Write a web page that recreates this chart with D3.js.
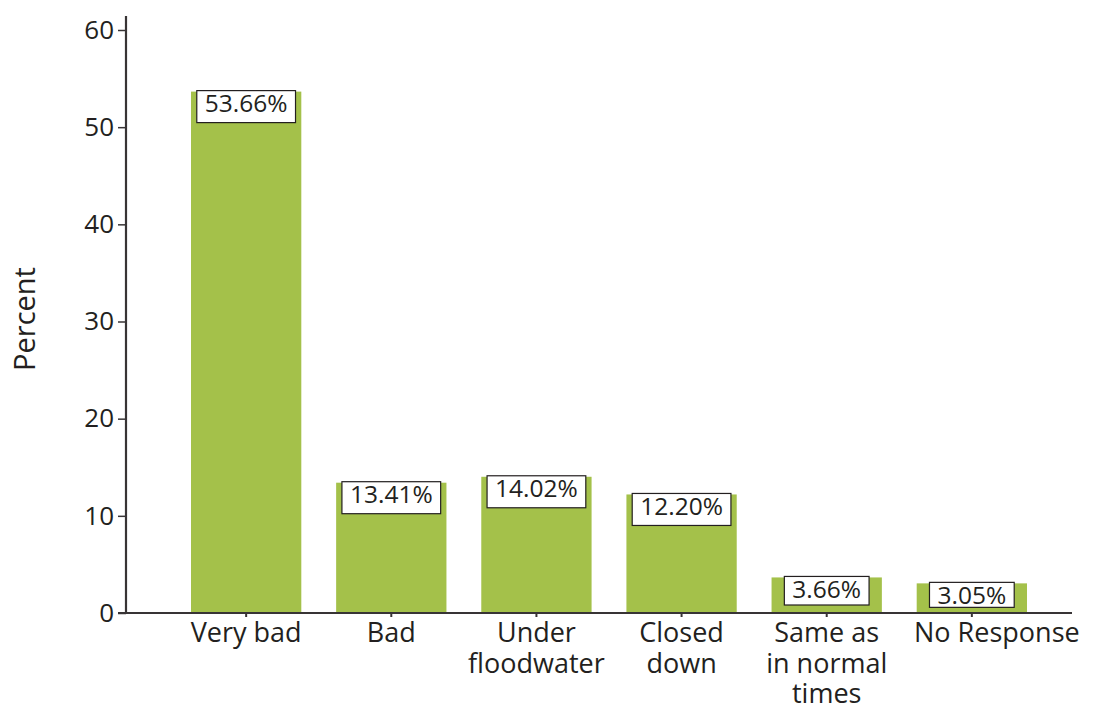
<!DOCTYPE html>
<html>
<head>
<meta charset="utf-8">
<script src="https://cdn.jsdelivr.net/npm/d3@7"></script>
<style>
  html, body { margin: 0; padding: 0; background: #fff; }
  svg text { font-family: "Open Sans", "Noto Sans", sans-serif; fill: #231f20; }
</style>
</head>
<body>
<svg id="chart" width="1101" height="709"></svg>
<script>
// Survey responses: condition of facilities during the flood
const categories = ["Very bad", "Bad", "Under floodwater", "Closed down", "Same as in normal times", "No Response"];
const categoryLines = [["Very bad"], ["Bad"], ["Under", "floodwater"], ["Closed", "down"], ["Same as", "in normal", "times"], ["No Response"]];
const percents = [53.66, 13.41, 14.02, 12.20, 3.66, 3.05];
const yTicks = [0, 10, 20, 30, 40, 50, 60];

const svg = d3.select("#chart");
const ink = "#383435";
const barColor = "#a4c14a";
const fontFamily = "'Open Sans', 'Noto Sans', sans-serif";

const x = d3.scaleBand()
  .domain(categories)
  .range([191, 1027])
  .paddingInner(0.24)
  .paddingOuter(0);

const y = d3.scaleLinear()
  .domain([0, 60])
  .range([613, 30]);

// Bars
svg.append("g")
  .selectAll("rect")
  .data(percents)
  .join("rect")
  .attr("x", (d, i) => x(categories[i]))
  .attr("y", d => y(d))
  .attr("width", x.bandwidth())
  .attr("height", d => y(0) - y(d))
  .attr("fill", barColor);

// Y axis
const yAxis = d3.axisLeft(y)
  .tickValues(yTicks)
  .tickSize(8)
  .tickPadding(4);

const gy = svg.append("g")
  .attr("transform", "translate(126,0)")
  .call(yAxis);
gy.select(".domain").remove();
gy.selectAll(".tick line").attr("stroke", ink).attr("stroke-width", 1.5);
gy.selectAll(".tick text")
  .attr("font-size", 26)
  .attr("font-family", fontFamily)
  .attr("fill", "#231f20");

gy.append("line")
  .attr("x1", 0).attr("x2", 0)
  .attr("y1", 16).attr("y2", y(0) + 1)
  .attr("stroke", ink).attr("stroke-width", 2.2);

// X axis
const xAxis = d3.axisBottom(x).tickSize(4).tickFormat("");
const gx = svg.append("g")
  .attr("transform", `translate(0,${y(0)})`)
  .call(xAxis);
gx.select(".domain").remove();
gx.selectAll(".tick line").attr("stroke", ink).attr("stroke-width", 2);

gx.append("line")
  .attr("x1", 118).attr("x2", 1072)
  .attr("y1", 0).attr("y2", 0)
  .attr("stroke", ink).attr("stroke-width", 2.2);

// Multi-line category labels; the last one is nudged right so it clears its neighbour
const lastCat = categories[categories.length - 1];
const labels = svg.append("g")
  .selectAll("text")
  .data(categories)
  .join("text")
  .attr("text-anchor", "middle")
  .attr("font-size", 27)
  .attr("transform", d => `translate(${x(d) + x.bandwidth() / 2 + (d === lastCat ? 25 : 0)},642)`);
labels.selectAll("tspan")
  .data((d, i) => categoryLines[i])
  .join("tspan")
  .attr("x", 0)
  .attr("y", (d, j) => j * 30.5)
  .text(d => d);

// Y axis title
svg.append("text")
  .attr("transform", "translate(35,319) rotate(-90)")
  .attr("text-anchor", "middle")
  .attr("font-size", 29)
  .text("Percent");

// Value labels in white boxes at each bar top
const valueGroups = svg.append("g")
  .selectAll("g")
  .data(percents)
  .join("g")
  .attr("transform", (d, i) => `translate(${x(categories[i]) + x.bandwidth() / 2},${y(d) - 1})`);

valueGroups.append("text")
  .attr("class", "val")
  .attr("text-anchor", "middle")
  .attr("y", 21.5)
  .attr("font-size", 24.5)
  .text(d => d.toFixed(2) + "%");

valueGroups.each(function (d) {
  const g = d3.select(this);
  const bb = g.select("text.val").node().getBBox();
  const w = bb.width + 16;
  // shorter boxes on the low bars so they stay clear of the baseline
  const h = Math.max(25, Math.min(32, y(0) - 7 - y(d)));
  g.insert("rect", "text")
    .attr("x", -w / 2)
    .attr("y", 0)
    .attr("width", w)
    .attr("height", h)
    .attr("fill", "#fff")
    .attr("stroke", "#231f20")
    .attr("stroke-width", 1.2);
});
</script>
</body>
</html>
